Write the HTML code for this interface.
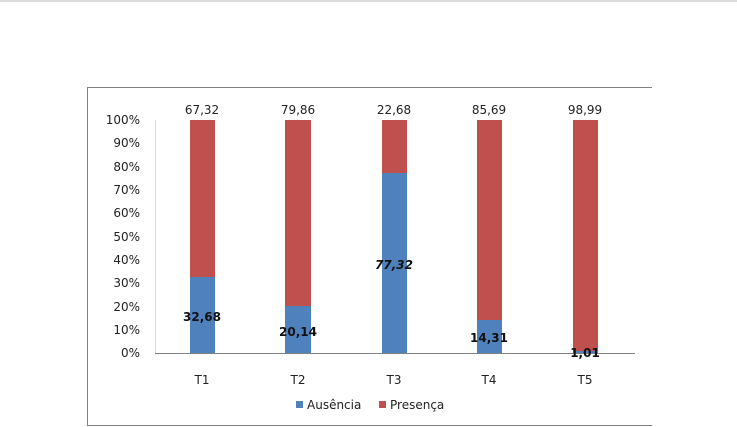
<!DOCTYPE html>
<html><head><style>html,body{margin:0;padding:0;background:#fff}svg{display:block}text{font-family:"DejaVu Sans","Liberation Sans",sans-serif}</style></head>
<body>
<svg width="737" height="427" viewBox="0 0 737 427">
<line x1="0" y1="1" x2="737" y2="1" stroke="#d0d0d0" stroke-width="1.5"/>
<line x1="87.5" y1="87" x2="87.5" y2="426" stroke="#808080"/>
<line x1="87" y1="87.5" x2="652" y2="87.5" stroke="#808080"/>
<line x1="87" y1="425.5" x2="652" y2="425.5" stroke="#808080"/>
<line x1="155.5" y1="120" x2="155.5" y2="353" stroke="#d8d8d8"/>
<line x1="155" y1="353.5" x2="635" y2="353.5" stroke="#808080"/>
<g font-size="12" fill="#222" text-anchor="end">
<text x="140" y="124">100%</text><text x="140" y="147">90%</text><text x="140" y="171">80%</text>
<text x="140" y="194">70%</text><text x="140" y="217">60%</text><text x="140" y="241">50%</text>
<text x="140" y="264">40%</text><text x="140" y="287">30%</text><text x="140" y="311">20%</text>
<text x="140" y="334">10%</text><text x="140" y="357">0%</text>
</g>
<g>
<rect x="190" y="120" width="25" height="157" fill="#c0504d"/><rect x="190" y="277" width="25" height="76" fill="#4f81bd"/>
<rect x="285" y="120" width="26" height="186" fill="#c0504d"/><rect x="285" y="306" width="26" height="47" fill="#4f81bd"/>
<rect x="382" y="120" width="25" height="53" fill="#c0504d"/><rect x="382" y="173" width="25" height="180" fill="#4f81bd"/>
<rect x="477" y="120" width="25" height="200" fill="#c0504d"/><rect x="477" y="320" width="25" height="33" fill="#4f81bd"/>
<rect x="573" y="120" width="25" height="231" fill="#c0504d"/><rect x="573" y="351" width="25" height="2" fill="#4f81bd"/>
</g>
<g font-size="12" fill="#222" text-anchor="middle">
<text x="202" y="114">67,32</text><text x="298" y="114">79,86</text><text x="394" y="114">22,68</text>
<text x="489" y="114">85,69</text><text x="585" y="114">98,99</text>
</g>
<g font-size="12" font-weight="bold" fill="#111" text-anchor="middle">
<text x="202" y="321">32,68</text><text x="298" y="336">20,14</text><text x="394" y="269" font-style="italic">77,32</text>
<text x="489" y="342">14,31</text><text x="585" y="357">1,01</text>
</g>
<g font-size="12" fill="#222" text-anchor="middle">
<text x="202" y="384">T1</text><text x="298" y="384">T2</text><text x="394" y="384">T3</text>
<text x="489" y="384">T4</text><text x="585" y="384">T5</text>
</g>
<rect x="296" y="401" width="7" height="7" fill="#4f81bd"/>
<text x="307" y="409" font-size="12" fill="#222">Ausência</text>
<rect x="379" y="401" width="7" height="7" fill="#c0504d"/>
<text x="390" y="409" font-size="12" fill="#222">Presença</text>
</svg>
</body></html>
